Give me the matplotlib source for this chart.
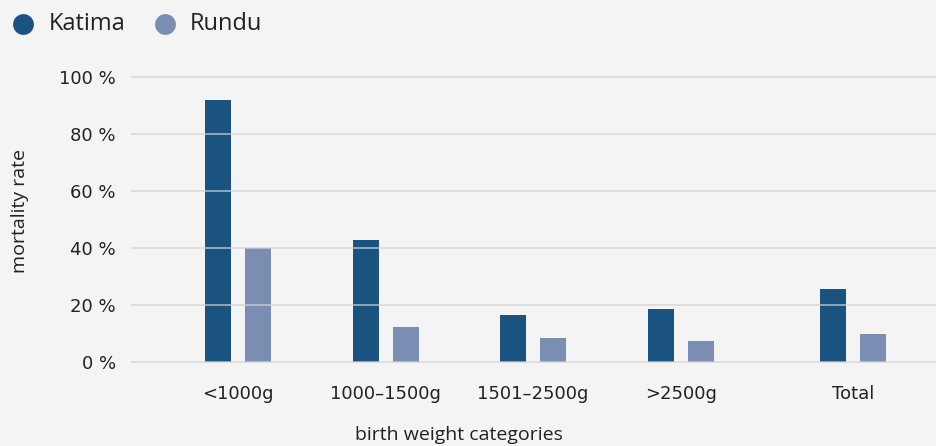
import matplotlib.pyplot as plt
import numpy as np

categories = ['<1000g', '1000–1500g', '1501–2500g', '>2500g', 'Total']
katima = [91.8, 42.7, 16.4, 18.5, 25.5]
rundu = [39.8, 12.2, 8.3, 7.3, 9.8]
series = ['Katima', 'Rundu']
yticks = [0, 20, 40, 60, 80, 100]

bg = '#f4f4f4'
c_kat = '#1a5380'
c_run = '#7a8db3'
txt = '#222222'

# the Total group sits a little further out than the others
x = np.array([0, 1, 2, 3, 4.166])
w = 0.176
off = 0.1356

fig = plt.figure(figsize=(9.36, 4.46), dpi=100, facecolor=bg)
ax = fig.add_axes([131 / 936, 0.1762, 1 - 131 / 936, 0.86 - 0.1762], facecolor=bg)

ax.bar(x - off, katima, width=w, color=c_kat, zorder=1)
ax.bar(x + off, rundu, width=w, color=c_run, zorder=1)

ax.set_ylim(-2, 105)
ax.set_xlim(-0.725, 4.73)
ax.set_yticks(yticks)
ax.set_yticklabels([f'{v} %' for v in yticks], family='DejaVu Sans', fontsize=13, color=txt)
ax.set_xticks(x)
ax.set_xticklabels(categories, family='DejaVu Sans', fontsize=13, color=txt)
ax.tick_params(axis='y', length=0, pad=11)
ax.tick_params(axis='x', length=0, pad=13)
for s in ax.spines.values():
    s.set_visible(False)

for v in yticks:
    ax.axhline(v, color='#d2d2d2', lw=1.4, alpha=0.65, zorder=3)

fig.text(459 / 936, 1 - 435 / 446, 'birth weight categories', ha='center', va='center',
         family='Open Sans', fontsize=14, color=txt)
fig.text(20 / 936, 1 - 211 / 446, 'mortality rate', ha='center', va='center', rotation=90,
         family='Open Sans', fontsize=14, color=txt)

# legend drawn on an overlay in pixel units
lg = fig.add_axes([0, 0, 1, 1], facecolor='none')
lg.set_xlim(0, 936)
lg.set_ylim(446, 0)
lg.axis('off')
for name, col, mx, tx in zip(series, [c_kat, c_run], [23, 165], [49, 190]):
    lg.plot(mx, 24, marker='o', ms=15, mew=0, color=col, ls='')
    lg.text(tx, 24, name, va='center', ha='left', family='Open Sans', fontsize=17, color=txt)

fig.savefig('out.png', dpi=100, facecolor=bg)
